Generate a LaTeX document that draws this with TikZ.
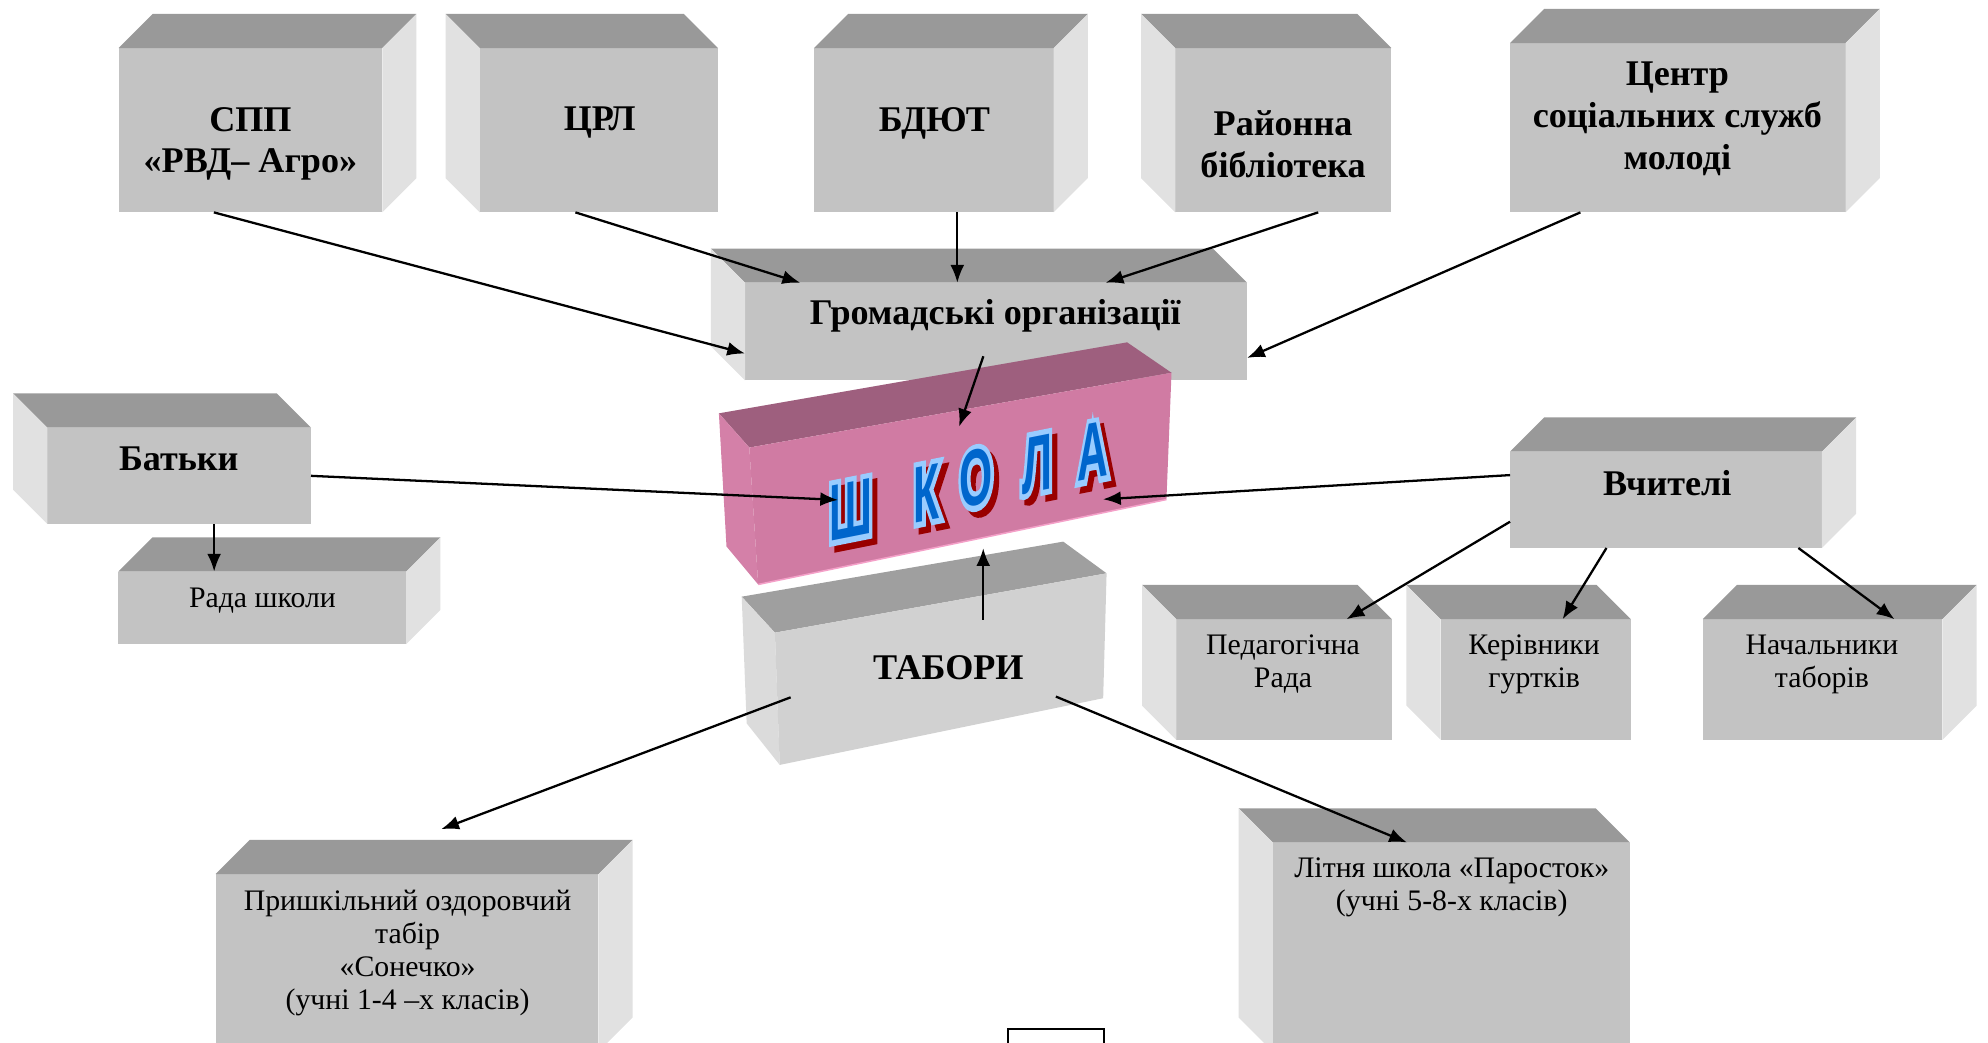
\documentclass[tikz,border=0pt]{standalone}
\usepackage{fontspec}
\setmainfont{Liberation Serif}
\newfontfamily\shkfont{Liberation Sans}
\newfontfamily\shkkontur{Liberation Sans}[BoldFeatures={FakeBold=14}]
\usetikzlibrary{arrows.meta,calc}

\definecolor{licevyi}{HTML}{C3C3C3}
\definecolor{verhnii}{HTML}{999999}
\definecolor{bichnyi}{HTML}{E1E1E1}
\definecolor{rozhevyi}{HTML}{D07BA3}
\definecolor{rozhverh}{HTML}{9E5F7E}
\definecolor{rozhbik}{HTML}{D480A8}
\definecolor{rozhkant}{HTML}{F4A0C8}
\definecolor{syniy}{HTML}{0066CC}
\definecolor{blakytnyi}{HTML}{99CCFF}
\definecolor{bordo}{HTML}{990000}

\tikzset{
  blok/.style={rectangle, fill=licevyi, inner sep=0pt, outer sep=0pt, anchor=north west},
  verh/.style={fill=verhnii},
  bik/.style={fill=bichnyi},
  napys/.style={align=center, inner sep=0pt, font=\fontsize{28.5}{33}\selectfont\bfseries},
  tekst/.style={align=center, inner sep=0pt, font=\fontsize{23.5}{26}\selectfont},
  strilka/.style={line width=1.8pt, -{Latex[length=14pt,width=11pt]}},
  bukva/.style={inner sep=0pt, font=\shkfont\bfseries\fontsize{30}{30}\selectfont,
    yslant=0.2, xscale=1.12, yscale=2.1},
  kontur/.style={bukva, font=\shkkontur\bfseries\fontsize{30}{30}\selectfont}
}

% top and side faces of a box, depth to the right / to the left
\newcommand{\kubR}[1]{%
  \fill[verh] (#1.north west) -- ++(27,-27) -- ($(#1.north east)+(27,-27)$) -- (#1.north east) -- cycle;
  \fill[bik] (#1.north east) -- ++(27,-27) -- ($(#1.south east)+(27,-27)$) -- (#1.south east) -- cycle;
}
\newcommand{\kubL}[1]{%
  \fill[verh] (#1.north west) -- ++(-27,-27) -- ($(#1.north east)+(-27,-27)$) -- (#1.north east) -- cycle;
  \fill[bik] (#1.north west) -- ++(-27,-27) -- ($(#1.south west)+(-27,-27)$) -- (#1.south west) -- cycle;
}

\begin{document}
\begin{tikzpicture}[x=1pt, y=-1pt]

  \useasboundingbox (0,0) rectangle (1568,822);
  \clip (0,0) rectangle (1568,822);

  % grey boxes
  \node[blok, minimum width=208pt, minimum height=129.5pt] (spp) at (93.5,38) {};
  \node[blok, minimum width=188pt, minimum height=129.5pt] (crl) at (378.4,38) {};
  \node[blok, minimum width=189pt, minimum height=129.5pt] (bdut) at (642,38) {};
  \node[blok, minimum width=170.5pt, minimum height=129.5pt] (bibl) at (927,38) {};
  \node[blok, minimum width=264.6pt, minimum height=133.5pt] (centr) at (1191,34) {};
  \node[blok, minimum width=396pt, minimum height=77pt] (gromad) at (587.6,223) {};
  \node[blok, minimum width=208pt, minimum height=76pt] (batky) at (37.3,337.3) {};
  \node[blok, minimum width=227pt, minimum height=57.2pt] (rada) at (93.4,450.8) {};
  \node[blok, minimum width=246pt, minimum height=76pt] (vchyt) at (1191,356.2) {};
  \node[blok, minimum width=170pt, minimum height=95.2pt] (ped) at (927.8,488.4) {};
  \node[blok, minimum width=150pt, minimum height=95.2pt] (kerivn) at (1136.3,488.4) {};
  \node[blok, minimum width=189pt, minimum height=95.2pt] (nach) at (1343,488.4) {};
  \node[blok, minimum width=302pt, minimum height=140pt] (pryshk) at (170,689.5) {};
  \node[blok, minimum width=281.5pt, minimum height=165pt] (litnya) at (1004,664.5) {};

  \kubR{spp}  \kubL{crl}  \kubR{bdut}  \kubL{bibl}  \kubR{centr}
  \kubL{gromad}  \kubL{batky}  \kubR{rada}  \kubR{vchyt}
  \kubL{ped}  \kubL{kerivn}  \kubR{nach}  \kubR{pryshk}  \kubL{litnya}

  \node[napys] (spp-t) at (197.5,113.5) {СПП\\«РВД– Агро»};
  \node[napys] (crl-t) at (473,97) {ЦРЛ};
  \node[napys] (bdut-t) at (737,97) {БДЮТ};
  \node[napys] (bibl-t) at (1012,113.5) {Районна\\бібліотека};
  \node[napys] (centr-t) at (1323,93.5) {Центр\\соціальних служб\\молоді};
  \node[napys] (gromad-t) at (785,249) {Громадські організації};
  \node[napys] (batky-t) at (141,362) {Батьки};
  \node[tekst] (rada-t) at (207,474) {Рада школи};
  \node[napys] (vchyt-t) at (1315,381) {Вчителі};
  \node[tekst] (ped-t) at (1012,524) {Педагогічна\\Рада};
  \node[tekst] (kerivn-t) at (1210,524) {Керівники\\гуртків};
  \node[tekst] (nach-t) at (1437,524) {Начальники\\таборів};
  \node[tekst] (pryshk-t) at (321.5,752) {Пришкільний оздоровчий\\табір\\«Сонечко»\\(учні 1-4 –х класів)};
  \node[tekst] (litnya-t) at (1145,700) {Літня школа «Паросток»\\(учні 5-8-х класів)};

  % camps box
  \fill[gray!75] (585,470.6) -- (838.6,427.2) -- (872.8,452.2) -- (611.2,499) -- cycle;
  \fill[gray!28] (585,470.6) -- (611.2,499) -- (615,603.3) -- (588.9,570.5) -- cycle;
  \fill[gray!36] (611.2,499) -- (872.8,452.2) -- (870.1,550.7) -- (615,603.3) -- cycle;
  \node[napys] (tabory) at (748,527) {ТАБОРИ};

  % school box
  \fill[rozhverh] (567,326) -- (889,270) -- (924,294) -- (591,353) -- cycle;
  \fill[rozhbik] (567,326) -- (591,353) -- (598,461) -- (573,431) -- cycle;
  \fill[rozhevyi] (591,353) -- (924,294) -- (920,394) -- (598,461) -- cycle;
  \draw[rozhkant, line width=1.2pt] (598,461) -- (920,394);

  \foreach \b/\x/\y [count=\i] in {Ш/671/402, К/731/389, О/770/377, Л/818/366, А/862/356} {
    \node[kontur, text=bordo] (ten-\i) at (\x+4,\y+4.5) {\b};
    \node[kontur, text=blakytnyi] (kontur-\i) at (\x,\y) {\b};
    \node[bukva, text=syniy] (bukva-\i) at (\x,\y) {\b};
  }

  \node[draw, fill=white, line width=1.5pt, anchor=north west, minimum width=76pt, minimum height=40pt] (storinka) at (794,810.5) {};

  % arrow ends
  \coordinate (gromad-vyh) at (775.6,281);
  \coordinate (shk-verh) at (756.5,336.5);
  \coordinate (shk-liv) at (661,394.3);
  \coordinate (shk-prav) at (870,393.8);
  \coordinate (shk-niz) at (775.5,432.4);
  \coordinate (tab-verh) at (775.5,489);
  \coordinate (tab-liv) at (623.6,550);
  \coordinate (tab-prav) at (832.8,549.4);
  \coordinate (pryshk-vh) at (348,654);

  \draw[strilka] (spp.246.2) -- (gromad.185.6);
  \draw[strilka] (crl.254.5) -- (gromad.166.8);
  \draw[strilka] (bdut.286.8) -- (bdut.286.8 |- gromad.north);
  \draw[strilka] (bibl.293.2) -- (gromad.24.4);
  \draw[strilka] (centr.221.8) -- (gromad.354.5);
  \draw[strilka] (gromad-vyh) -- (shk-verh);
  \draw[strilka] (batky.east) -- (shk-liv);
  \draw[strilka] (batky.306.6) -- (batky.306.6 |- rada.north);
  \draw[strilka] (vchyt.171.3) -- (shk-prav);
  \draw[strilka] (vchyt.188.8) -- (ped.44.3);
  \draw[strilka] (vchyt.219) -- (kerivn.66.5);
  \draw[strilka] (vchyt.340.3) -- (nach.40.6);
  \draw[strilka] (tab-verh) -- (shk-niz);
  \draw[strilka] (tab-liv) -- (pryshk-vh);
  \draw[strilka] (tab-prav) -- (litnya.113.2);

\end{tikzpicture}
\end{document}
